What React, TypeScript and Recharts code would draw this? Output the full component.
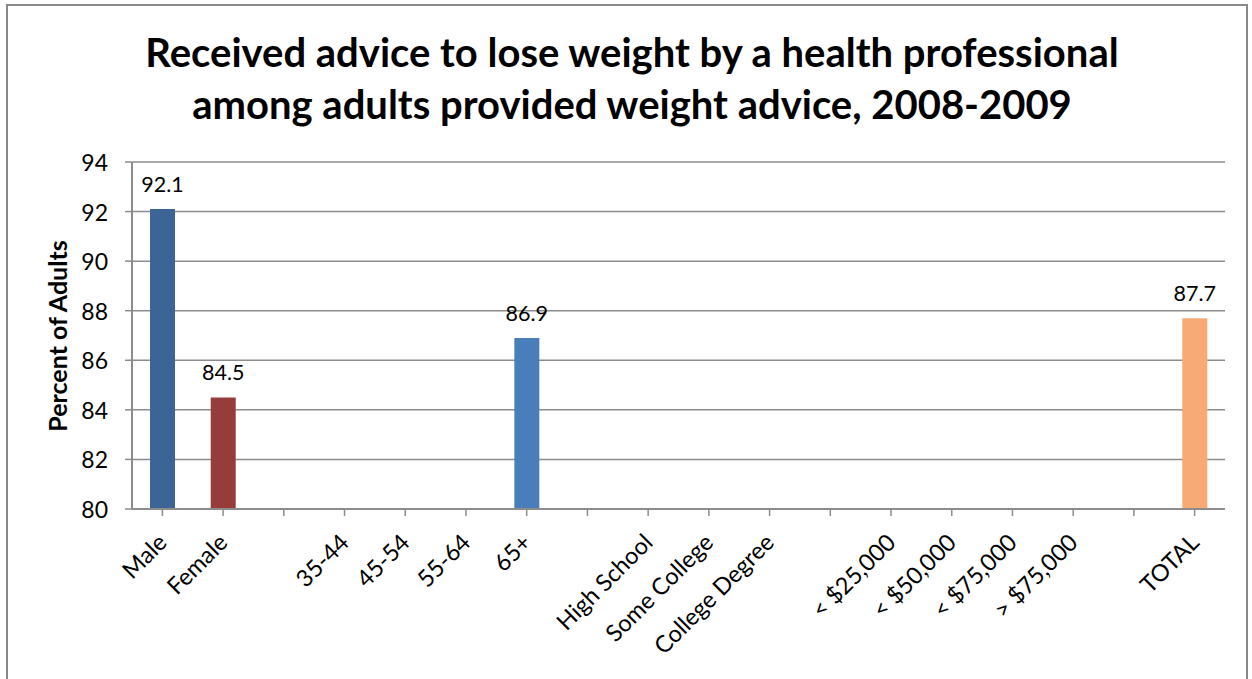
import React from "react";
import { BarChart, Bar, XAxis, YAxis, CartesianGrid, Cell, LabelList } from "recharts";

const categories = ["Male", "Female", " ", "35-44", "45-54", "55-64", "65+", "  ", "High School", "Some College", "College Degree", "   ", "< $25,000", "< $50,000", "< $75,000", "> $75,000", "    ", "TOTAL"];
const values: (number | null)[] = [92.1, 84.5, null, null, null, null, 86.9, null, null, null, null, null, null, null, null, null, null, 87.7];
const barColors = ["#3C6497", "#963D3B", "#4A7EBB", "#4A7EBB", "#4A7EBB", "#4A7EBB", "#4A7EBB", "#4A7EBB", "#4A7EBB", "#4A7EBB", "#4A7EBB", "#4A7EBB", "#4A7EBB", "#4A7EBB", "#4A7EBB", "#4A7EBB", "#4A7EBB", "#F7AA76"];
const yTicks = [80, 82, 84, 86, 88, 90, 92, 94];
const titleLines = ["Received advice to lose weight by a health professional", "among adults provided weight advice, 2008-2009"];
const yLabel = "Percent of Adults";

const data = categories.map((c, i) => ({ name: c, value: values[i] }));
const FONT = "Lato, 'Open Sans', sans-serif";
const GRID = "#8C8C8C";

const XTick = (props: any) => {
  const { x, y, payload } = props;
  const tx = x + 6;
  const ty = y + 26;
  return (
    <text x={tx} y={ty} textAnchor="end" fontSize={23.5} fontFamily={FONT} fill="#000" transform={`rotate(-45 ${tx} ${ty})`}>
      {payload.value}
    </text>
  );
};

const YTick = (props: any) => {
  const { x, y, payload } = props;
  return (
    <text x={x - 15} y={y} textAnchor="end" dominantBaseline="central" fontSize={23} fontFamily={FONT} fill="#000">
      {payload.value}
    </text>
  );
};

const TopLabel = (props: any) => {
  const { x, y, width, value } = props;
  if (value === null || value === undefined) return null;
  return (
    <text x={x + width / 2} y={y - 17} textAnchor="middle" fontSize={21.5} fontFamily={FONT} fill="#000">
      {value}
    </text>
  );
};

export default function App() {
  return (
    <div style={{ position: "absolute", left: 0, top: 0, width: 1252, height: 679, overflow: "hidden", background: "#fff" }}>
      <div style={{ position: "absolute", left: 6, top: 4, width: 1242, height: 720, border: "2px solid #898989", boxSizing: "border-box" }} />
      <div style={{ position: "absolute", left: 0, top: 26, width: 1264, textAlign: "center", fontFamily: FONT, fontWeight: 700, fontSize: 40, lineHeight: "52px", color: "#000" }}>
        {titleLines.map((t, i) => (
          <div key={i}>{t}</div>
        ))}
      </div>
      <div style={{ position: "absolute", left: 57, top: 336, width: 0, height: 0 }}>
        <div style={{ position: "absolute", left: 0, top: 0, transform: "translate(-50%, -50%) rotate(-90deg)", whiteSpace: "nowrap", fontFamily: FONT, fontWeight: 700, fontSize: 25, color: "#000" }}>
          {yLabel}
        </div>
      </div>
      <div style={{ position: "absolute", left: 0, top: 0 }}>
        <BarChart width={1252} height={679} data={data} margin={{ top: 162, right: 27, left: 72, bottom: 20 }} barSize={25}>
          <CartesianGrid horizontal={true} vertical={false} stroke={GRID} strokeWidth={1.5} />
          <XAxis dataKey="name" interval={0} height={150} tick={<XTick />} tickLine={{ stroke: GRID, strokeWidth: 1.5 }} tickSize={7} axisLine={{ stroke: GRID, strokeWidth: 2 }} />
          <YAxis domain={[80, 94]} ticks={yTicks} width={60} allowDataOverflow tick={<YTick />} tickLine={{ stroke: GRID, strokeWidth: 1.5 }} tickSize={7} axisLine={{ stroke: GRID, strokeWidth: 2 }} />
          <Bar dataKey="value" isAnimationActive={false}>
            {data.map((d, i) => (
              <Cell key={i} fill={barColors[i]} />
            ))}
            <LabelList dataKey="value" content={<TopLabel />} />
          </Bar>
        </BarChart>
      </div>
    </div>
  );
}
